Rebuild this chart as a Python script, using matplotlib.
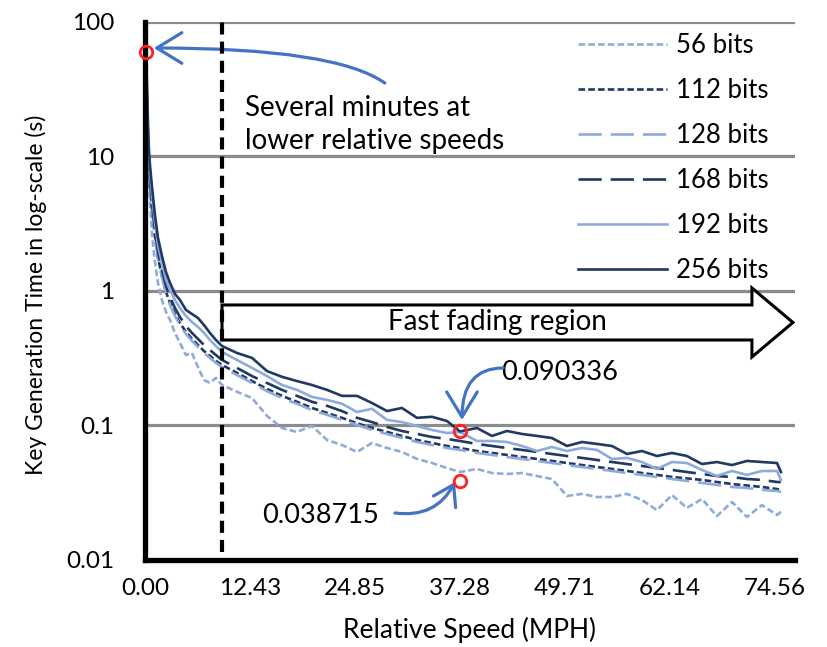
import matplotlib.pyplot as plt
from matplotlib.patches import Polygon
from matplotlib.ticker import NullLocator

plt.rcParams['font.family'] = ['Lato', 'DejaVu Sans']

# relative speed (MPH) at the sampled points
speed = [0.06, 0.12, 0.24, 0.36, 0.47, 0.59, 0.83, 1.18, 1.54, 2.01,
         2.49, 2.96, 3.55, 4.14, 4.85, 5.56, 6.27, 6.98, 7.69, 8.40,
         9.12, 10.89, 12.67, 14.44, 16.22, 17.99, 19.77, 21.55, 23.32, 25.10,
         26.87, 28.65, 30.42, 32.20, 33.98, 35.75, 37.28, 39.30, 41.08, 42.85,
         44.63, 46.41, 48.18, 49.96, 51.73, 53.51, 55.28, 57.06, 58.84, 60.61,
         62.39, 64.16, 65.94, 67.71, 69.49, 71.27, 73.04, 74.82, 75.29]

# key generation time (s) per key length
t56 = [56.8, 40.4, 20.4, 10.3, 6.69, 4.75, 2.61, 1.64, 1.15, 0.857,
       0.698, 0.609, 0.488, 0.411, 0.334, 0.346, 0.272, 0.218, 0.207, 0.226,
       0.200, 0.178, 0.160, 0.118, 0.0958, 0.0895, 0.0992, 0.078, 0.0716, 0.0636,
       0.0741, 0.068, 0.0636, 0.0564, 0.0526, 0.0483, 0.0451, 0.0475, 0.0443, 0.0436,
       0.0443, 0.0421, 0.040, 0.0299, 0.031, 0.0294, 0.0294, 0.031, 0.0279, 0.0235,
       0.0304, 0.0244, 0.0284, 0.0212, 0.027, 0.0209, 0.0256, 0.0216, 0.0228]
t112 = [64.1, 44.0, 22.9, 12.0, 7.80, 6.03, 4.07, 2.56, 1.76, 1.29,
        0.983, 0.814, 0.675, 0.578, 0.496, 0.440, 0.397, 0.358, 0.329, 0.302,
        0.282, 0.246, 0.214, 0.187, 0.166, 0.150, 0.135, 0.124, 0.114, 0.104,
        0.0958, 0.0895, 0.0836, 0.078, 0.0741, 0.0704, 0.068, 0.0646, 0.0625, 0.0604,
        0.0583, 0.0564, 0.0545, 0.0526, 0.0508, 0.0491, 0.0475, 0.0459, 0.0443, 0.0429,
        0.0414, 0.0404, 0.0394, 0.038, 0.0367, 0.0358, 0.0349, 0.0337, 0.0332]
t128 = [66.3, 46.3, 24.2, 12.4, 7.94, 6.14, 4.14, 2.56, 1.76, 1.27,
        0.966, 0.787, 0.652, 0.559, 0.479, 0.425, 0.383, 0.346, 0.318, 0.292,
        0.272, 0.237, 0.207, 0.180, 0.160, 0.145, 0.130, 0.120, 0.110, 0.101,
        0.0926, 0.0865, 0.0807, 0.0754, 0.0716, 0.068, 0.0658, 0.0625, 0.0604, 0.0583,
        0.0564, 0.0545, 0.0526, 0.0508, 0.0491, 0.0475, 0.0459, 0.0443, 0.0429, 0.0414,
        0.040, 0.0387, 0.0374, 0.0361, 0.0349, 0.0343, 0.0332, 0.0326, 0.0321]
t168 = [67.5, 47.9, 25.4, 13.3, 8.65, 6.69, 4.51, 2.84, 1.95, 1.43,
        1.09, 0.902, 0.747, 0.641, 0.549, 0.488, 0.440, 0.397, 0.364, 0.334,
        0.307, 0.268, 0.233, 0.207, 0.184, 0.166, 0.150, 0.140, 0.128, 0.114,
        0.106, 0.0975, 0.091, 0.0865, 0.0821, 0.0794, 0.0767, 0.0729, 0.0704, 0.068,
        0.0658, 0.0636, 0.0614, 0.0593, 0.0574, 0.0554, 0.0535, 0.0517, 0.050, 0.0483,
        0.0467, 0.0451, 0.0436, 0.0421, 0.0414, 0.040, 0.0394, 0.038, 0.038]
t192 = [73.5, 54.0, 28.7, 15.0, 9.75, 7.67, 5.17, 3.26, 2.20, 1.62,
        1.21, 1.02, 0.857, 0.747, 0.652, 0.588, 0.540, 0.488, 0.432, 0.390,
        0.352, 0.307, 0.268, 0.233, 0.200, 0.184, 0.163, 0.155, 0.145, 0.126,
        0.133, 0.110, 0.106, 0.0992, 0.0926, 0.0879, 0.0895, 0.0767, 0.0767, 0.0754,
        0.0704, 0.0646, 0.0692, 0.0646, 0.068, 0.0658, 0.0564, 0.0574, 0.0535, 0.0475,
        0.0535, 0.0526, 0.0467, 0.0421, 0.0459, 0.0429, 0.0459, 0.0459, 0.0394]
t256 = [83.0, 61.9, 32.9, 17.1, 11.2, 8.65, 5.93, 3.67, 2.48, 1.82,
        1.38, 1.15, 0.950, 0.857, 0.723, 0.675, 0.630, 0.559, 0.488, 0.432,
        0.390, 0.346, 0.318, 0.254, 0.230, 0.214, 0.200, 0.184, 0.166, 0.166,
        0.147, 0.128, 0.135, 0.114, 0.116, 0.108, 0.0903, 0.0958, 0.0836, 0.091,
        0.0865, 0.0836, 0.0807, 0.0704, 0.0754, 0.0729, 0.0704, 0.0614, 0.0646, 0.0593,
        0.0625, 0.0593, 0.0517, 0.0535, 0.0508, 0.0545, 0.0535, 0.0526, 0.0451]

x_ticks = [0.00, 12.43, 24.85, 37.28, 49.71, 62.14, 74.56]
y_ticks = [0.01, 0.1, 1, 10, 100]
fast_fading_start = 9.12

# highlighted points (red circles)
mark_x = [0.12, 37.28, 37.28]
mark_y = [60, 0.090336, 0.038715]

DARK = '#203864'
LIGHT = '#8FAADC'
ARROW = '#4472C4'
FS_TICK = 17.5
FS_LEG = 18.5
FS_NOTE = 20

fig = plt.figure(figsize=(8.28, 6.47), dpi=100)
ax = fig.add_axes([0.1751, 0.1345, 0.785, 0.8315])

series = [
    ('56 bits', t56, LIGHT, (0, (2.5, 1.2))),
    ('112 bits', t112, DARK, (0, (2.5, 1.2))),
    ('128 bits', t128, LIGHT, (0, (8.8, 3.4))),
    ('168 bits', t168, DARK, (0, (8.8, 3.4))),
    ('192 bits', t192, LIGHT, '-'),
    ('256 bits', t256, DARK, '-'),
]
for label, vals, col, ls in series:
    ax.plot(speed, vals, color=col, ls=ls, lw=1.9, label=label, zorder=2)

ax.set_yscale('log')
ax.set_ylim(0.01, 100)
ax.set_xlim(0, 76.95)
ax.set_yticks(y_ticks)
ax.set_yticklabels(['0.01', '0.1', '1', '10', '100'])
ax.yaxis.set_minor_locator(NullLocator())
ax.set_xticks(x_ticks)
ax.set_xticklabels(['%.2f' % v for v in x_ticks])
ax.tick_params(axis='both', length=0, labelsize=FS_TICK)
ax.tick_params(axis='y', pad=22)
ax.tick_params(axis='x', pad=13)
ax.grid(axis='y', color='#8c8c8c', lw=2.3)
ax.set_axisbelow(True)
for s in ['top', 'right']:
    ax.spines[s].set_visible(False)
for s in ['left', 'bottom']:
    ax.spines[s].set_linewidth(3.8)
    ax.spines[s].set_color('black')

ax.set_xlabel('Relative Speed (MPH)', fontsize=19)
ax.set_ylabel('Key Generation Time in log-scale (s)', fontsize=16.5)
ax.xaxis.set_label_coords(0.5, -0.106)
ax.yaxis.set_label_coords(-0.151, 0.4926)

# fast fading boundary
ax.axvline(fast_fading_start, ymin=0.015, ymax=1.0, color='black', lw=3,
           ls=(0, (2.9, 1.7)), zorder=4)

# fast fading block arrow
arrow_pts = [(0.1185, 0.474), (0.9338, 0.474), (0.9338, 0.5056), (0.9969, 0.4415),
             (0.9338, 0.3773), (0.9338, 0.4089), (0.1185, 0.4089)]
ax.add_patch(Polygon(arrow_pts, closed=True, transform=ax.transAxes, facecolor='white',
                     edgecolor='black', lw=2.2, clip_on=False, zorder=3))
ax.text(0.5415, 0.4415, 'Fast fading region', transform=ax.transAxes, fontsize=FS_NOTE,
        ha='center', va='center', zorder=5)

ax.plot(mark_x, mark_y, 'o', mfc='none', mec='#FF2020', ms=9, mew=2, zorder=6, clip_on=False)

# callouts
ax.text(0.1538, 0.8095, 'Several minutes at\nlower relative speeds', transform=ax.transAxes,
        fontsize=FS_NOTE, ha='left', va='center', linespacing=1.36)
ax.annotate('', xy=(0.0135, 0.9517), xycoords='axes fraction',
            xytext=(0.369, 0.8866), textcoords='axes fraction',
            arrowprops=dict(arrowstyle='->,head_length=0.9,head_width=0.55', color=ARROW,
                            lw=2.3, mutation_scale=20, shrinkA=0, shrinkB=0,
                            connectionstyle='angle3,angleA=145,angleB=0'))

ax.text(0.548, 0.3476, '0.090336', transform=ax.transAxes, fontsize=19.5,
        ha='left', va='center')
ax.annotate('', xy=(0.4877, 0.2602), xycoords='axes fraction',
            xytext=(0.551, 0.3569), textcoords='axes fraction',
            arrowprops=dict(arrowstyle='->,head_length=0.9,head_width=0.55', color=ARROW,
                            lw=2.3, mutation_scale=20, shrinkA=0, shrinkB=0,
                            connectionstyle='angle3,angleA=180,angleB=90'))

ax.text(0.2708, 0.0836, '0.038715', transform=ax.transAxes, fontsize=19.5,
        ha='center', va='center')
ax.annotate('', xy=(0.4769, 0.145), xycoords='axes fraction',
            xytext=(0.3846, 0.0874), textcoords='axes fraction',
            arrowprops=dict(arrowstyle='->,head_length=0.7,head_width=0.45', color=ARROW,
                            lw=2.3, mutation_scale=20, shrinkA=0, shrinkB=0,
                            connectionstyle='arc3,rad=0.35'))

ax.legend(loc='upper left', bbox_to_anchor=(578 / 828, 1 - 33 / 647),
          bbox_transform=fig.transFigure, frameon=False, fontsize=FS_LEG,
          borderpad=0, borderaxespad=0, handlelength=3.46, handletextpad=0.36,
          labelspacing=0.78)

fig.savefig('out.png', dpi=100)
